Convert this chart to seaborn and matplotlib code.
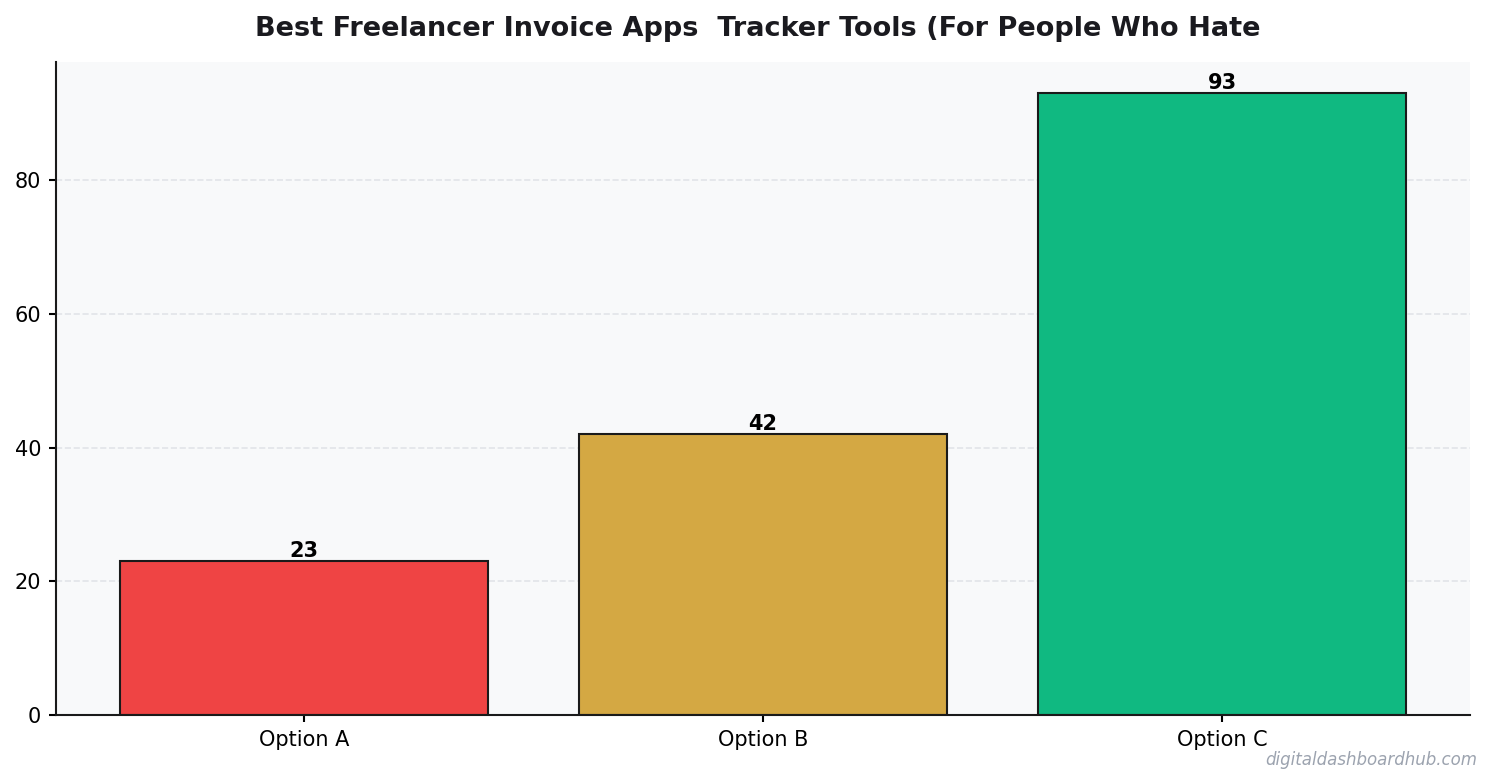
import matplotlib
matplotlib.use("Agg")
import matplotlib.pyplot as plt
import seaborn as sns
import pandas as pd

options = ["Option A", "Option B", "Option C"]
scores = [23, 42, 93]
bar_colors = ["#EF4444", "#D4A843", "#10B981"]

title = "Best Freelancer Invoice Apps  Tracker Tools (For People Who Hate"

sns.set_theme(style="white")
plt.rcParams['font.family'] = ['DejaVu Sans']

df = pd.DataFrame({"option": options, "score": scores})

fig = plt.figure(figsize=(1492 / 150, 783 / 150), dpi=150)
ax = fig.add_axes([0.0375, 0.0868, 0.9478, 0.834])
ax.set_facecolor("#F8F9FA")

sns.barplot(data=df, x="option", y="score", hue="option", palette=bar_colors,
            legend=False, ax=ax, width=0.8, edgecolor="#1a1a1a", linewidth=1.0,
            saturation=1)

# value labels on top of each bar
for i, v in enumerate(scores):
    ax.text(i, v, str(v), ha="center", va="bottom", fontsize=10, fontweight="bold", color="black")

ax.set_ylim(0, max(scores) * 1.05)
ax.set_xlim(-0.54, 2.54)
ax.set_xlabel("")
ax.set_ylabel("")
ax.yaxis.grid(True, linestyle="--", color="#d9dce1", alpha=0.7, linewidth=0.8)
ax.set_axisbelow(True)
sns.despine(ax=ax)
for side in ["left", "bottom"]:
    ax.spines[side].set_color("#1a1a1a")
    ax.spines[side].set_linewidth(1.0)
ax.tick_params(axis="both", labelsize=10, colors="black", length=3.5, width=1, pad=3.5,
               left=True, bottom=True)

fig.text(0.508, 0.963, title, ha="center", va="center", fontsize=13, fontweight="bold", color="#1a1a1f")
fig.text(0.99, 0.03, "digitaldashboardhub.com", ha="right", va="center", fontsize=8,
         style="italic", color="#9CA3AF")

fig.savefig("out.png", dpi=150)
